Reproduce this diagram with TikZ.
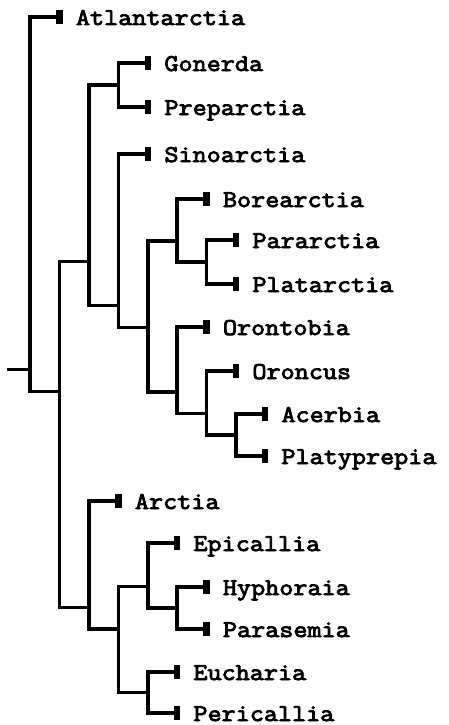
\documentclass[tikz,border=0pt]{standalone}
\usepackage{fontspec}
\newfontfamily\treefont{Latin Modern Mono}[FakeStretch=1.14, FakeBold=3.5]
\tikzset{
  branch/.style={line width=3.2pt, line cap=rect, line join=miter},
  bar/.style={fill=black, draw=none, minimum width=6.5pt, minimum height=14pt, inner sep=0pt, outer sep=0pt},
  lbl/.style={anchor=west, inner sep=0pt, text height=14pt, text depth=0pt, font=\treefont\fontsize{24}{26}\selectfont}
}
\newcommand{\leaf}[4]{\node[bar] (#1) at (#2,#3) {}; \node[lbl] (#1t) at ([xshift=13pt,yshift=-1pt]#1.east) {#4};}
\begin{document}
\begin{tikzpicture}[x=1pt,y=-1pt]
\useasboundingbox (0,0) rectangle (449,725);
% columns
\def\ca{30}\def\cb{59.5}\def\cc{89}\def\cd{118.5}\def\ce{148}\def\cf{177}\def\cg{206.5}\def\ch{236}\def\ci{265}
% leaves
\leaf{atl}{\cb}{17}{Atlantarctia}
\leaf{gon}{\ce}{63}{Gonerda}
\leaf{pre}{\ce}{107}{Preparctia}
\leaf{sin}{\ce}{154}{Sinoarctia}
\leaf{bor}{\cg}{199}{Borearctia}
\leaf{par}{\ch}{240}{Pararctia}
\leaf{pla}{\ch}{284}{Platarctia}
\leaf{oro}{\cg}{327}{Orontobia}
\leaf{orc}{\ch}{371}{Oroncus}
\leaf{ace}{\ci}{414}{Acerbia}
\leaf{plp}{\ci}{456}{Platyprepia}
\leaf{arc}{\cd}{501}{Arctia}
\leaf{epi}{\cf}{543}{Epicallia}
\leaf{hyp}{\cg}{587}{Hyphoraia}
\leaf{pas}{\cg}{629}{Parasemia}
\leaf{euc}{\cf}{672}{Eucharia}
\leaf{per}{\cf}{713}{Pericallia}
% internal nodes
\coordinate (stub) at (9,369.3);
\coordinate (root) at (\ca,369.3);
\coordinate (nA) at (\cb,391.3);
\coordinate (nB) at (\cc,261.5);
\coordinate (nGP) at (\cd,85);
\coordinate (nC) at (\cd,305.6);
\coordinate (nD) at (\ce,327.3);
\coordinate (nE) at (\cf,241);
\coordinate (nPP) at (\cg,262);
\coordinate (nF) at (\cf,392);
\coordinate (nG) at (\cg,413.7);
\coordinate (nH) at (\ch,435);
\coordinate (nL) at (\cc,607.7);
\coordinate (nL2) at (\cd,629);
\coordinate (nL3) at (\ce,586.3);
\coordinate (nHP) at (\cf,608);
\coordinate (nL4) at (\ce,692.5);
% connectors
\draw[branch] (stub) -- (root);
\draw[branch] (root) |- (atl.west);
\draw[branch] (root) |- (nA);
\draw[branch] (nA) |- (nB);
\draw[branch] (nA) |- (nL);
\draw[branch] (nB) |- (nGP);
\draw[branch] (nB) |- (nC);
\draw[branch] (nGP) |- (gon.west);
\draw[branch] (nGP) |- (pre.west);
\draw[branch] (nC) |- (sin.west);
\draw[branch] (nC) |- (nD);
\draw[branch] (nD) |- (nE);
\draw[branch] (nD) |- (nF);
\draw[branch] (nE) |- (bor.west);
\draw[branch] (nE) |- (nPP);
\draw[branch] (nPP) |- (par.west);
\draw[branch] (nPP) |- (pla.west);
\draw[branch] (nF) |- (oro.west);
\draw[branch] (nF) |- (nG);
\draw[branch] (nG) |- (orc.west);
\draw[branch] (nG) |- (nH);
\draw[branch] (nH) |- (ace.west);
\draw[branch] (nH) |- (plp.west);
\draw[branch] (nL) |- (arc.west);
\draw[branch] (nL) |- (nL2);
\draw[branch] (nL2) |- (nL3);
\draw[branch] (nL2) |- (nL4);
\draw[branch] (nL3) |- (epi.west);
\draw[branch] (nL3) |- (nHP);
\draw[branch] (nHP) |- (hyp.west);
\draw[branch] (nHP) |- (pas.west);
\draw[branch] (nL4) |- (euc.west);
\draw[branch] (nL4) |- (per.west);
\end{tikzpicture}
\end{document}
